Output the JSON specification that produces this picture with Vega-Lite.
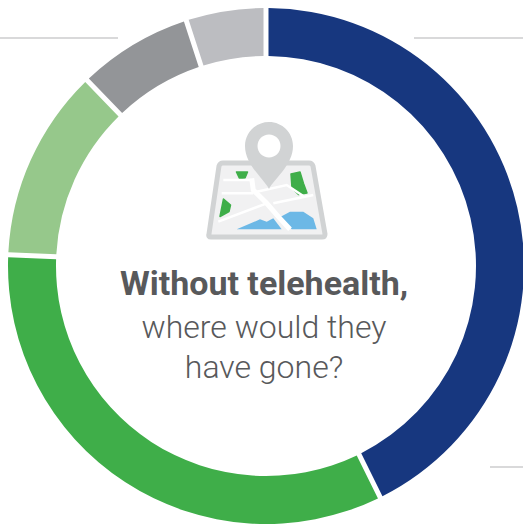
{"$schema":"https://vega.github.io/schema/vega-lite/v6.json","width":523,"height":527,"padding":0,"autosize":"none","background":"white","view":{"stroke":null},"config":{"axis":{"disable":true}},
"layer":[
{"data":{"values":[{"seg":"A","share":42.7,"i":1},{"seg":"B","share":33.0,"i":2},{"seg":"C","share":12.1,"i":3},{"seg":"D","share":7.2,"i":4},{"seg":"E","share":5.0,"i":5}]},
"mark":{"type":"arc","radius":258,"radius2":210,"padAngle":0.015},
"encoding":{"x":{"datum":266,"type":"quantitative","scale":{"domain":[0,523]},"axis":null},"y":{"datum":266,"type":"quantitative","scale":{"domain":[0,527],"reverse":true},"axis":null},"theta":{"field":"share","type":"quantitative","stack":true,"scale":{"domain":[0,100],"range":[0,6.2832]}},"order":{"field":"i"},"color":{"field":"seg","type":"nominal","legend":null,"scale":{"domain":["A","B","C","D","E"],"range":["#17377f","#3fae49","#96c88b","#939598","#bcbdc1"]}}}},
{"data":{"values":[{"a":0,"b":118,"h":38},{"a":414,"b":523,"h":38},{"a":490,"b":523,"h":467}]},
"mark":{"type":"rule","color":"#cccdce","strokeWidth":1.5},
"encoding":{"x":{"field":"a","type":"quantitative","scale":{"domain":[0,523]},"axis":null},"x2":{"field":"b"},"y":{"field":"h","type":"quantitative","scale":{"domain":[0,527],"reverse":true},"axis":null}}},
{"data":{"values":[{"part":"map"}]},"mark":{"type":"point","filled":false,"size":4,"opacity":1,"fill":"#f1f1f2","stroke":"#d1d3d4","strokeWidth":5,"shape":"M-46,-32 L40,-32 Q43,-32 44,-29 L56,39 Q56,42 53,42 L-58,42 Q-61,42 -60,39 L-50,-29 Q-49,-32 -46,-32 Z"},
"encoding":{"x":{"datum":269,"type":"quantitative","scale":{"domain":[0,523]},"axis":null},"y":{"datum":195,"type":"quantitative","scale":{"domain":[0,527],"reverse":true},"axis":null}}},
{"data":{"values":[{"part":"parks"}]},"mark":{"type":"point","filled":true,"size":4,"opacity":1,"fill":"#3fae49","stroke":"#3fae49","strokeWidth":1.5,"strokeJoin":"round","shape":"M-32.5,-23 L-21.5,-23 L-24,-17 L-29.5,-16.5 Z M22,-21 L31,-23 L34.5,-11.5 L38,-2 L29.5,-0.5 L23,-7 Z M-45.5,4 L-38.5,10 L-40,16.5 L-49,21.5 Z"},
"encoding":{"x":{"datum":269,"type":"quantitative","scale":{"domain":[0,523]},"axis":null},"y":{"datum":195,"type":"quantitative","scale":{"domain":[0,527],"reverse":true},"axis":null}}},
{"data":{"values":[{"part":"water"}]},"mark":{"type":"point","filled":true,"size":4,"opacity":1,"color":"#6cb8e6","shape":"M-32.3,34.3 L-9,24.3 L-2.3,26.7 L4.3,23.3 L12.7,34.3 Z M11.7,21.7 L21,16.7 L34.3,16.7 L44.3,23.3 L47.7,34.3 L22.7,34.3 Z"},
"encoding":{"x":{"datum":269,"type":"quantitative","scale":{"domain":[0,523]},"axis":null},"y":{"datum":195,"type":"quantitative","scale":{"domain":[0,527],"reverse":true},"axis":null}}},
{"data":{"values":[{"part":"main road"}]},"mark":{"type":"point","filled":false,"size":4,"opacity":1,"stroke":"#ffffff","strokeWidth":5,"shape":"M-17.3,-16.7 L-15.7,-5 L-2.3,8.3 L9.3,21.7 L21,34.3"},
"encoding":{"x":{"datum":269,"type":"quantitative","scale":{"domain":[0,523]},"axis":null},"y":{"datum":195,"type":"quantitative","scale":{"domain":[0,527],"reverse":true},"axis":null}}},
{"data":{"values":[{"part":"side roads"}]},"mark":{"type":"point","filled":false,"size":4,"opacity":1,"stroke":"#ffffff","strokeWidth":2.5,"shape":"M-47.3,-1.7 L-15.7,-1.7 M-50.7,26.7 L-2.3,8.3 M-12.3,-3.3 L17.7,-10 L34.3,1 M4.3,8.3 L44.3,0 M-45.7,-15 L-17.3,-15"},
"encoding":{"x":{"datum":269,"type":"quantitative","scale":{"domain":[0,523]},"axis":null},"y":{"datum":195,"type":"quantitative","scale":{"domain":[0,527],"reverse":true},"axis":null}}},
{"data":{"values":[{"part":"pin"}]},"mark":{"type":"point","filled":true,"size":4,"opacity":1,"color":"#d1d3d4","shape":"M0,-6 C-5,-16 -24,-30 -24,-49 A24,24 0 1 1 24,-49 C24,-30 5,-16 0,-6 Z"},
"encoding":{"x":{"datum":269,"type":"quantitative","scale":{"domain":[0,523]},"axis":null},"y":{"datum":195,"type":"quantitative","scale":{"domain":[0,527],"reverse":true},"axis":null}}},
{"data":{"values":[{"part":"pin hole"}]},"mark":{"type":"point","filled":true,"size":4,"opacity":1,"color":"#ffffff","shape":"M-11.5,-49 A11.5,11.5 0 1 1 11.5,-49 A11.5,11.5 0 1 1 -11.5,-49 Z"},
"encoding":{"x":{"datum":269,"type":"quantitative","scale":{"domain":[0,523]},"axis":null},"y":{"datum":195,"type":"quantitative","scale":{"domain":[0,527],"reverse":true},"axis":null}}},
{"data":{"values":[{"t":"Without telehealth,"}]},"mark":{"type":"text","font":"Roboto","fontWeight":"bold","fontSize":34,"color":"#58595b","align":"center","baseline":"alphabetic"},
"encoding":{"text":{"field":"t"},"x":{"datum":264,"type":"quantitative","scale":{"domain":[0,523]},"axis":null},"y":{"datum":295,"type":"quantitative","scale":{"domain":[0,527],"reverse":true},"axis":null}}},
{"data":{"values":[{"t":"where would they","h":338},{"t":"have gone?","h":378}]},"mark":{"type":"text","font":"Roboto","fontWeight":300,"fontSize":32,"color":"#58595b","align":"center","baseline":"alphabetic"},
"encoding":{"text":{"field":"t"},"x":{"datum":264,"type":"quantitative","scale":{"domain":[0,523]},"axis":null},"y":{"field":"h","type":"quantitative","scale":{"domain":[0,527],"reverse":true},"axis":null}}}
]}
